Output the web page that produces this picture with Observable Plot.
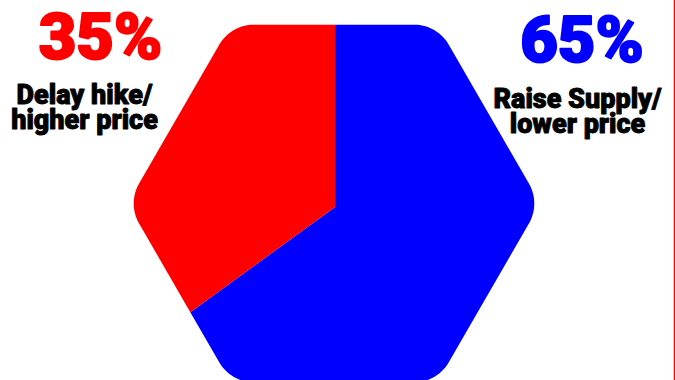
<!DOCTYPE html>
<html>
<head>
<meta charset="utf-8">
<script src="https://cdn.jsdelivr.net/npm/d3@7"></script>
<script src="https://cdn.jsdelivr.net/npm/@observablehq/plot@0.6"></script>
<style>
  html, body { margin: 0; padding: 0; background: #fff; }
  #chart svg { display: block; }
</style>
</head>
<body>
<div id="chart"></div>
<script>
// ---- data ----
const categories = ["Raise Supply/\nlower price", "Delay hike/\nhigher price"];
const shares = [65, 35];
const pctLabels = ["65%", "35%"];
const colors = ["#0000ff", "#ff0000"];

// ---- geometry (pixel layout of the hexagon "pie") ----
const W = 675, H = 380;
const k = 178.8;            // apothem in px
const cx = 333.5, cy = 203; // hexagon centre in px
const rho = 40 / k;         // corner rounding
const pieC = [(334.6 - cx) / k, (cy - 206.5) / k];

const xDomain = [-cx / k, (W - cx) / k];
const yDomain = [(cy - H) / k, cy / k];

// rounded hexagon boundary (CCW, flat top)
const inner = (1 - rho) * 2 / Math.sqrt(3);
const boundary = [];
for (let i = 0; i < 6; i++) {
  const th = i * Math.PI / 3;
  const vx = inner * Math.cos(th), vy = inner * Math.sin(th);
  for (let j = 0; j <= 24; j++) {
    const a = th - Math.PI / 6 + j * (Math.PI / 3) / 24;
    boundary.push([vx + rho * Math.cos(a), vy + rho * Math.sin(a)]);
  }
}

function rayHit(theta) {
  const dx = Math.cos(theta), dy = Math.sin(theta);
  let best = null;
  for (let i = 0; i < boundary.length; i++) {
    const A = boundary[i], B = boundary[(i + 1) % boundary.length];
    const ex = B[0] - A[0], ey = B[1] - A[1];
    const den = dx * ey - dy * ex;
    if (Math.abs(den) < 1e-12) continue;
    const ax = A[0] - pieC[0], ay = A[1] - pieC[1];
    const t = (ax * ey - ay * ex) / den;
    const s = (ax * dy - ay * dx) / den;
    if (t > 0 && s >= -1e-9 && s <= 1 + 1e-9) {
      if (!best || t < best.t) best = {t, p: [pieC[0] + t * dx, pieC[1] + t * dy]};
    }
  }
  return best.p;
}

const arcs = d3.pie().sort(null)(shares);
const rows = [];
arcs.forEach((arc, i) => {
  const a0 = Math.PI / 2 - arc.endAngle;
  const a1 = Math.PI / 2 - arc.startAngle;
  const pts = [pieC, rayHit(a0)];
  const inside = boundary
    .map(p => {
      let a = Math.atan2(p[1] - pieC[1], p[0] - pieC[0]);
      while (a < a0) a += 2 * Math.PI;
      while (a >= a0 + 2 * Math.PI) a -= 2 * Math.PI;
      return {p, a};
    })
    .filter(d => d.a > a0 && d.a < a1)
    .sort((u, v) => u.a - v.a)
    .map(d => d.p);
  pts.push(...inside, rayHit(a1), pieC);
  pts.forEach(p => rows.push({slice: categories[i], color: colors[i], x: p[0], y: p[1]}));
});

const font = "Roboto, Lato, sans-serif";

const chart = Plot.plot({
  width: W,
  height: H,
  margin: 0,
  x: {domain: xDomain, range: [0, W], axis: null},
  y: {domain: yDomain, range: [H, 0], axis: null},
  style: {background: "#fff", fontFamily: font},
  marks: [
    ...categories.map((c, i) =>
      Plot.line(rows.filter(r => r.slice === c), {
        x: "x", y: "y", fill: colors[i], stroke: "none", curve: "linear"
      })
    ),
    // big percentages
    Plot.text([pctLabels[1]], {
      text: d => d, frameAnchor: "top-left", dx: 100, dy: 58,
      lineAnchor: "bottom", textAnchor: "middle",
      fill: colors[1], stroke: colors[1], strokeWidth: 2,
      fontSize: 65, fontWeight: 900, letterSpacing: "3.5px"
    }),
    Plot.text([pctLabels[0]], {
      text: d => d, frameAnchor: "top-left", dx: 581.5, dy: 61.5,
      lineAnchor: "bottom", textAnchor: "middle",
      fill: colors[0], stroke: colors[0], strokeWidth: 2,
      fontSize: 65, fontWeight: 900, letterSpacing: "3.5px"
    }),
    // category labels
    Plot.text([categories[1]], {
      text: d => d, frameAnchor: "top-left", dx: 84, dy: 128.5,
      lineAnchor: "bottom", textAnchor: "middle", lineHeight: 0.92,
      fill: "#000", stroke: "#000", strokeWidth: 0.9,
      fontSize: 27, fontWeight: 900, letterSpacing: "-1px"
    }),
    Plot.text([categories[0]], {
      text: d => d, frameAnchor: "top-left", dx: 577, dy: 132.5,
      lineAnchor: "bottom", textAnchor: "middle", lineHeight: 0.92,
      fill: "#000", stroke: "#000", strokeWidth: 0.9,
      fontSize: 27, fontWeight: 900, letterSpacing: "-1px"
    }),
    // thin red rule at the right edge
    Plot.ruleX([xDomain[1]], {stroke: "#ff0000", strokeWidth: 1.5, dx: -1})
  ]
});

document.getElementById("chart").appendChild(chart);
</script>
</body>
</html>
